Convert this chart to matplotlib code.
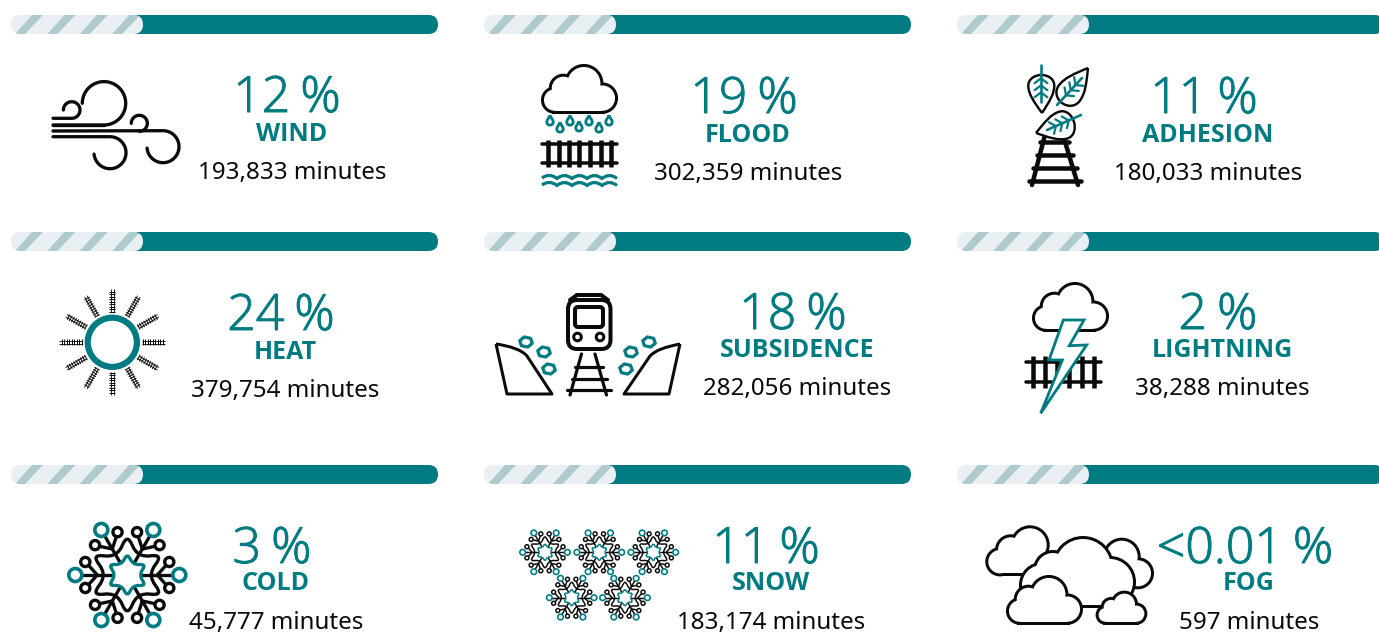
import numpy as np
import matplotlib
matplotlib.use('Agg')
import matplotlib.pyplot as plt
import matplotlib.patheffects as pe
from matplotlib.patches import Circle, FancyBboxPatch, Polygon, PathPatch, Rectangle
from matplotlib.path import Path

# data
categorias = ['WIND', 'FLOOD', 'ADHESION', 'HEAT', 'SUBSIDENCE', 'LIGHTNING', 'COLD', 'SNOW', 'FOG']
porcentajes = ['12 %', '19 %', '11 %', '24 %', '18 %', '2 %', '3 %', '11 %', '<0.01 %']
minutos = [193833, 302359, 180033, 379754, 282056, 38288, 45777, 183174, 597]

# layout of the panels, in pixels
barra_x = [11, 484, 957]
barra_y = [15, 232, 465]
pct_x = [287, 744, 1204, 281, 793, 1218, 272, 766, 1245]
txt_x = [292, 748, 1208, 285, 797, 1222, 276, 771, 1249]
pct_y = [112, 113, 113, 330, 329, 329, 563, 563, 563]
cat_y = [141, 142, 142, 359, 357, 357, 590, 590, 590]
min_y = [179, 180, 180, 397, 395, 395, 629, 629, 629]

TEAL = '#007b82'
NEGRO = '#0a0a0a'
CLARO = '#e9eff3'
RAYA = '#aecacd'

fig = plt.figure(figsize=(13.79, 6.32), dpi=100)
ax = fig.add_axes([0, 0, 1, 1])
ax.set_xlim(0, 1379)
ax.set_ylim(632, 0)
ax.axis('off')


def px(v):
    return v * 72 / 100


def linea(xs, ys, color=NEGRO, w=3, cap='round', z=3):
    ax.plot(xs, ys, color=color, lw=px(w), solid_capstyle=cap, solid_joinstyle='round', zorder=z)


def arco(cx, cy, r, a0, a1, pre=None, color=NEGRO, w=3.3):
    t = np.radians(np.linspace(a0, a1, 60))
    xs = cx + r * np.cos(t)
    ys = cy - r * np.sin(t)
    if pre is not None:
        xs = np.r_[pre[0], xs]
        ys = np.r_[pre[1], ys]
    linea(xs, ys, color, w)


def barra(x0, y0):
    fondo = FancyBboxPatch((x0 + 60, y0), 367, 19, boxstyle='round,pad=0,rounding_size=9.5',
                           fc=TEAL, ec='none', zorder=1)
    ax.add_patch(fondo)
    claro = FancyBboxPatch((x0, y0), 132, 19, boxstyle='round,pad=0,rounding_size=9.5',
                           fc=CLARO, ec='none', zorder=2)
    ax.add_patch(claro)
    for i in range(4):
        d = 32.4 * i
        r = Polygon([[x0 + 4 + d, y0 + 19], [x0 + 14 + d, y0 + 19], [x0 + 32 + d, y0], [x0 + 21 + d, y0]],
                    fc=RAYA, ec='none', zorder=3)
        ax.add_patch(r)
        r.set_clip_path(claro)


def nube(circulos, base, t=3, z=3):
    # outline first, white fill on top, so that only the outer edge stays
    for c in circulos:
        ax.add_patch(Circle(c[:2], c[2], fc=NEGRO, ec=NEGRO, lw=px(2 * t), zorder=z))
    ax.add_patch(Rectangle(base[:2], base[2], base[3], fc=NEGRO, ec=NEGRO, lw=px(2 * t), zorder=z))
    for c in circulos:
        ax.add_patch(Circle(c[:2], c[2], fc='white', ec='none', zorder=z))
    ax.add_patch(Rectangle(base[:2], base[2], base[3], fc='white', ec='none', zorder=z))


def nube_std(x, y, w, t=3, z=3):
    s = w / 75
    cs = [(x + 42 * s, y + 18 * s, 17 * s), (x + 21 * s, y + 23 * s, 12 * s),
          (x + 12 * s, y + 35 * s, 11 * s), (x + 61 * s, y + 33 * s, 13 * s)]
    nube(cs, (x + 12 * s, y + 25 * s, 49 * s, 21 * s), t, z)


def via_h(x0, x1, y0, y1, ties, w_r=3.5, w_t=4.5, margen=4):
    for y in (y0, y1):
        linea([x0, x1], [y, y], w=w_r)
    for x in ties:
        linea([x, x], [y0 - margen, y1 + margen], w=w_t, cap='butt')


def gota(x, y, r=3.2):
    k = Path([(x, y - 2.1 * r), (x + 0.5 * r, y - r), (x + r, y - 0.6 * r), (x + r, y),
              (x + r, y + 1.3 * r), (x - r, y + 1.3 * r), (x - r, y),
              (x - r, y - 0.6 * r), (x - 0.5 * r, y - r), (x, y - 2.1 * r)],
             [1, 4, 4, 4, 4, 4, 4, 4, 4, 4])
    ax.add_patch(PathPatch(k, fc='none', ec=TEAL, lw=px(2.8), zorder=3))


def ola(x0, x1, y, n=5):
    paso = (x1 - x0) / n
    v = [(x0, y + 1)]
    c = [Path.MOVETO]
    for i in range(n):
        xa = x0 + i * paso
        v += [(xa + paso / 2, y - 4.5), (xa + paso, y + 1.5)]
        c += [Path.CURVE3, Path.CURVE3]
    ax.add_patch(PathPatch(Path(v, c), fc='none', ec=TEAL, lw=px(3.2), zorder=3))


def hoja(base, punta, ancho):
    b = np.array(base, float)
    u = np.array(punta, float) - b
    n = np.array([-u[1], u[0]]) / np.hypot(*u) * ancho
    loc = [(1, 0), (0.7, 0.6), (0.5, 1), (0.28, 1), (0.1, 1), (0, 0.5), (0, 0),
           (0, -0.5), (0.1, -1), (0.28, -1), (0.5, -1), (0.7, -0.6), (1, 0)]
    v = [b + a * u + c * n for a, c in loc]
    ax.add_patch(PathPatch(Path(v, [1] + [4] * 12), fc='white', ec=NEGRO, lw=px(2.4), zorder=3))


def nervio(p0, p1, n=3, largo=7):
    p0 = np.array(p0, float)
    p1 = np.array(p1, float)
    u = (p1 - p0) / np.hypot(*(p1 - p0))
    v = np.array([-u[1], u[0]])
    linea([p0[0], p1[0]], [p0[1], p1[1]], TEAL, 2.6, z=4)
    L = np.hypot(*(p1 - p0))
    for i in range(n):
        q = p0 + u * L * (0.36 + 0.19 * i)
        for sg in (1, -1):
            e = q + u * largo * 0.6 + sg * v * largo * 0.8
            linea([q[0], e[0]], [q[1], e[1]], TEAL, 2.2, z=4)


def via_v(rieles, ties, w=4):
    for (xa, ya, xb, yb) in rieles:
        linea([xa, xb], [ya, yb], w=w, z=2)
    for (xa, xb, y) in ties:
        linea([xa, xb], [y, y], w=w, z=2)


def estrella(cx, cy, r_in, r_out, ec, fc, w, z):
    # rounded six pointed star: midpoints joined with the corners as control points
    ang = np.radians(np.arange(12) * 30)
    r = np.where(np.arange(12) % 2 == 0, r_in, r_out)
    pts = np.c_[cx + r * np.cos(ang), cy - r * np.sin(ang)]
    medios = (pts + np.roll(pts, -1, axis=0)) / 2
    v = [medios[-1]]
    c = [Path.MOVETO]
    for i in range(12):
        v += [pts[i], medios[i]]
        c += [Path.CURVE3, Path.CURVE3]
    ax.add_patch(PathPatch(Path(v, c), fc=fc, ec=ec, lw=px(w), zorder=z))


def copo(cx, cy, s=1.0):
    w = 3.3 * max(s, 0.45)
    for k in range(6):
        a = np.radians(60 * k)
        u = np.array([np.cos(a), -np.sin(a)])
        v = np.array([-u[1], u[0]])
        c = np.array([cx, cy])
        p = c + u * 15 * s
        q = c + u * 45.5 * s
        linea([p[0], q[0]], [p[1], q[1]], w=w)
        ax.add_patch(Circle(c + u * 52 * s, 6.5 * s, fc='white', ec=TEAL, lw=px(w * 1.1), zorder=3))
        for sg in (1, -1):
            r = c + u * 30 * s
            e = c + u * 39 * s + sg * v * 10 * s
            linea([r[0], e[0]], [r[1], e[1]], w=w)
            ax.add_patch(Circle(c + u * 42 * s + sg * v * 13 * s, 4.6 * s, fc='white', ec=NEGRO,
                                lw=px(w), zorder=3))
    estrella(cx, cy, 20 * s, 42 * s, NEGRO, 'none', w, 3)
    estrella(cx, cy, 11.5 * s, 22 * s, TEAL, 'white', w, 4)


# progress bars
for y0 in barra_y:
    for x0 in barra_x:
        barra(x0, y0)

# wind
linea([53, 104], [125, 125], w=3.3)
arco(104, 103.3, 21.7, -90, 180, pre=([53], [125]))
arco(71.7, 110, 8.3, -90, 180, pre=([53], [118.3]))
arco(163, 146.7, 16, 90, -175, pre=([53], [131]))
arco(139.3, 123.3, 8, 180, -90)
arco(110, 152.7, 16, 90, -175, pre=([53], [136.7]))

# flood
nube_std(543, 66, 73)
for x, y in zip([550, 560, 570, 579, 589, 599, 609], [122, 129, 122, 128, 122, 129, 122]):
    gota(x, y)
via_h(542, 617, 144, 163, [548, 559, 569, 579, 590, 601, 611])
ola(542, 617, 177)
ola(542, 617, 184)

# adhesion
via_v([(1045, 135, 1032, 185), (1063, 135, 1078, 185)],
      [(1040, 1069, 142), (1037, 1073, 155), (1033, 1077, 168), (1029, 1081, 181)], w=4.5)
hoja((1041, 75), (1042, 113), 13)
nervio((1041, 65), (1041, 102), largo=8)
hoja((1062, 103), (1088, 68), 13)
nervio((1057, 105), (1082, 78), largo=8)
hoja((1074, 122), (1036, 133), 14)
nervio((1081, 115), (1047, 130), largo=8)

# heat
sol = (112.3, 342.3)
for k in range(12):
    a = np.radians(30 * k)
    u = np.array([np.cos(a), -np.sin(a)])
    v = np.array([-u[1], u[0]])
    p0 = np.array(sol) + u * 30
    p1 = np.array(sol) + u * 53
    for sg in (-1.4, 1.4):
        linea([p0[0] + sg * v[0], p1[0] + sg * v[0]], [p0[1] + sg * v[1], p1[1] + sg * v[1]], w=0.9, cap='butt')
    for d in np.arange(30.5, 53, 2.5):
        q = np.array(sol) + u * d
        linea([q[0] - 3 * v[0], q[0] + 3 * v[0]], [q[1] - 3 * v[1], q[1] + 3 * v[1]], w=1.0, cap='butt')
ax.add_patch(Circle(sol, 24.6, fc='white', ec=TEAL, lw=px(6.2), zorder=3))

# subsidence
ax.add_patch(FancyBboxPatch((568, 300), 42.5, 49, boxstyle='round,pad=0,rounding_size=9',
                            fc='white', ec=NEGRO, lw=px(4), zorder=3))
linea([577, 601], [295, 295], w=4)
linea([577, 570], [295, 300], w=4)
linea([601, 608], [295, 300], w=4)
ax.add_patch(FancyBboxPatch((575, 307), 28, 20, boxstyle='round,pad=0,rounding_size=3',
                            fc='white', ec=NEGRO, lw=px(4), zorder=3))
for x in (577.5, 600):
    ax.add_patch(Circle((x, 337), 3.8, fc='white', ec=NEGRO, lw=px(3), zorder=3))
via_v([(581.5, 354, 570, 395), (595, 354, 606.5, 395)],
      [(575, 603, 367), (572, 606.5, 379), (567, 610.5, 390)], w=3.2)
izq = Path([(496, 344), (510, 346), (522, 350), (527, 356), (552, 394), (507, 394), (496, 344)],
           [1, 4, 4, 2, 2, 2, 2])
ax.add_patch(PathPatch(izq, fc='white', ec=NEGRO, lw=px(3), joinstyle='round', zorder=3))
der = Path([(680, 344), (665, 347), (656, 350), (650, 356), (624, 394), (669, 394), (680, 344)],
           [1, 4, 4, 2, 2, 2, 2])
ax.add_patch(PathPatch(der, fc='white', ec=NEGRO, lw=px(3), joinstyle='round', zorder=3))
for x, y in [(526, 342), (544, 352), (549, 369), (631, 352), (649, 342), (626, 369)]:
    t = np.radians(np.arange(6) * 60 + 15)
    ax.add_patch(Polygon(np.c_[x + 6.5 * np.cos(t), y + 5.2 * np.sin(t)], closed=True, fc='white',
                         ec=TEAL, lw=px(3.2), joinstyle='round', zorder=3))

# lightning
nube_std(1034, 284, 73)
via_h(1026, 1101, 362, 382, [1033, 1045, 1057, 1069, 1082, 1094], margen=6)
rayo = [(160, 135), (222, 135), (178, 212), (230, 210), (92, 415), (157, 255), (117, 255)]
ax.add_patch(Polygon([(1010 + a / 3, 275 + b / 3) for a, b in rayo], closed=True, fc='white', ec=TEAL,
                     lw=px(2.8), joinstyle='miter', zorder=5))

# cold and snow
copo(127.3, 575)
for x, y in [(545, 552.3), (599.3, 552.3), (653.3, 552.3), (571.7, 597.7), (625, 597.7)]:
    copo(x, y, 0.43)

# fog
nube([(1030, 545, 16.7), (1010.7, 550, 12.7), (1000, 561.7, 11.7), (1036.7, 563.3, 10)], (1000, 555, 36, 18.4))
nube([(1121.7, 556.7, 16), (1113, 573.3, 13), (1138, 573.3, 13)], (1113, 565, 25, 21))
nube([(1083, 567, 28), (1053, 570, 17), (1042, 585, 20), (1110, 582, 23)], (1042, 580, 68, 25))
nube_std(1008, 577, 73)
nube_std(1098, 593, 47)

# texts
for i in range(len(categorias)):
    t = ax.text(pct_x[i], pct_y[i], porcentajes[i].replace(' ', '\u2009'), color=TEAL, fontsize=36,
                family='Open Sans', weight='light', ha='center', va='baseline', zorder=6)
    t.set_path_effects([pe.withStroke(linewidth=0.7, foreground=TEAL)])
    ax.text(txt_x[i], cat_y[i], categorias[i], color=TEAL, fontsize=18, family='Open Sans', weight='bold',
            ha='center', va='baseline', zorder=6)
    ax.text(txt_x[i], min_y[i], f'{minutos[i]:,} minutes', color=NEGRO, fontsize=17.4, family='Noto Sans',
            ha='center', va='baseline', zorder=6)

plt.savefig('out.png', dpi=100)
plt.close()
